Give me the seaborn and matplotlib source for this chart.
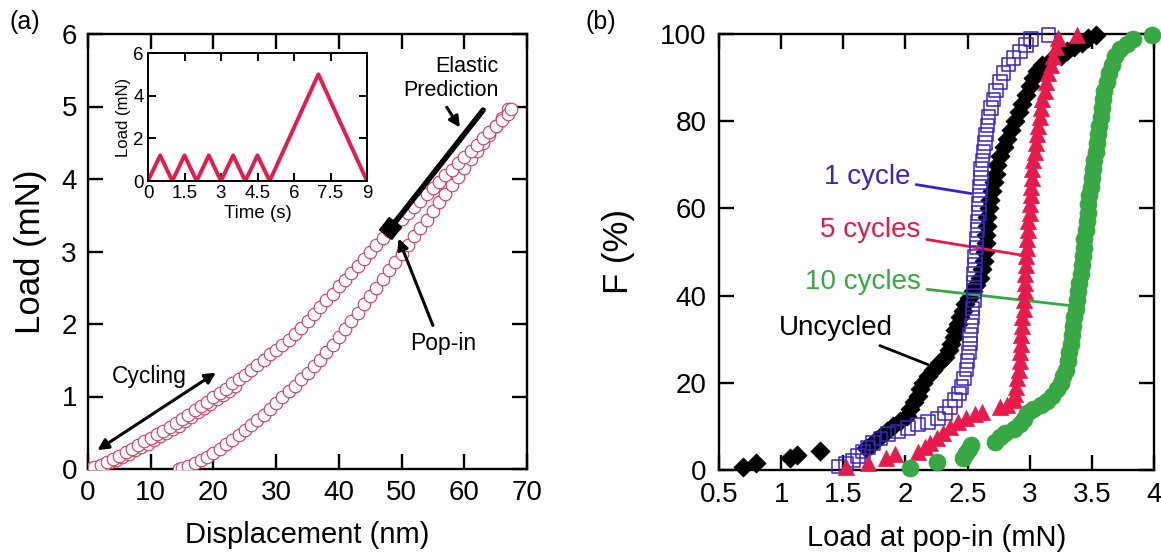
import matplotlib
matplotlib.use("Agg")
import matplotlib.pyplot as plt
import seaborn as sns
from matplotlib.ticker import MultipleLocator, FuncFormatter

# ---------------- panel (a): nanoindentation load-displacement ----------------
load_disp = [0, 1, 2, 3, 4, 5, 6, 7, 8, 9, 10, 11, 12, 13, 14, 15, 16, 17, 18, 19,
             20, 21, 22, 23, 24, 25, 26, 27, 28, 29, 30, 31, 32, 33, 34, 35, 36, 37, 38, 39,
             40, 41, 42, 43, 44, 45, 46, 47, 48, 49, 50, 51, 52, 53, 54, 55, 56, 57, 58, 59,
             60, 61, 62, 63, 64, 65, 66, 67, 67.4]
load_force = [0.00, 0.03, 0.06, 0.10, 0.14, 0.18, 0.23, 0.28, 0.33, 0.38, 0.43, 0.48, 0.53, 0.58,
              0.63, 0.69, 0.75, 0.81, 0.87, 0.93, 0.99, 1.05, 1.11, 1.18, 1.24, 1.30, 1.37, 1.44,
              1.51, 1.58, 1.64, 1.71, 1.78, 1.86, 1.95, 2.04, 2.14, 2.23, 2.33, 2.42, 2.52, 2.61,
              2.71, 2.80, 2.90, 2.99, 3.09, 3.18, 3.28, 3.36, 3.45, 3.53, 3.62, 3.70, 3.79, 3.87,
              3.96, 4.05, 4.13, 4.22, 4.30, 4.39, 4.47, 4.56, 4.65, 4.73, 4.82, 4.90, 4.96]

unload_disp = [14.5, 15, 16, 17, 18, 19, 20, 21, 22, 23, 24, 25, 26, 27, 28, 29, 30, 31, 32, 33,
               34, 35, 36, 37, 38, 39, 40, 41, 42, 43, 44, 45, 46, 47, 48, 49, 50, 51, 52, 53,
               54, 55, 56, 57, 58, 59, 60, 61, 62, 63, 64, 65, 66, 67]
unload_force = [0.00, 0.01, 0.04, 0.08, 0.12, 0.17, 0.22, 0.28, 0.34, 0.40, 0.47, 0.54, 0.61,
                0.68, 0.75, 0.83, 0.91, 0.99, 1.07, 1.15, 1.24, 1.33, 1.42, 1.51, 1.61, 1.71,
                1.82, 1.93, 2.04, 2.15, 2.27, 2.38, 2.50, 2.62, 2.74, 2.85, 2.97, 3.09, 3.21,
                3.33, 3.44, 3.56, 3.68, 3.80, 3.92, 4.03, 4.15, 4.27, 4.38, 4.50, 4.61, 4.73,
                4.84, 4.96]

# retrace of the low-load cycles
cycle_disp = [0.5, 1.5, 2.5, 3.5, 4.5, 5.5, 6.5, 7.5, 8.5, 9.5, 10.5, 11.5, 12.5, 13.5, 14.5,
              15.5, 16.5, 17.5, 18.5, 19.5, 20.5, 21.5, 22.5, 23.5]
cycle_force = [0.00, 0.03, 0.06, 0.09, 0.13, 0.17, 0.21, 0.26, 0.30, 0.35, 0.40, 0.45, 0.50,
               0.55, 0.60, 0.66, 0.72, 0.78, 0.84, 0.90, 0.96, 1.02, 1.08, 1.14]

elastic_disp = [48.2, 63.0]
elastic_force = [3.32, 4.95]
popin_disp = [48.2]
popin_force = [3.32]

# inset: applied load history
time_s = [0, 0.5, 1.0, 1.5, 2.0, 2.5, 3.0, 3.5, 4.0, 4.5, 5.0, 7.0, 9.0]
time_load = [0, 1.2, 0, 1.2, 0, 1.2, 0, 1.2, 0, 1.2, 0, 5.0, 0]

# ---------------- panel (b): cumulative pop-in load distributions ----------------
uncycled_load = [0.69, 0.80, 1.07, 1.13, 1.31,
                 1.68, 1.72, 1.76, 1.80, 1.85, 1.90, 1.96, 2.01, 2.04, 2.07, 2.10, 2.12, 2.14,
                 2.18, 2.22, 2.27, 2.32, 2.35, 2.37, 2.39, 2.40, 2.42, 2.44, 2.46, 2.48, 2.51,
                 2.54, 2.57, 2.60, 2.62, 2.63, 2.64, 2.65, 2.65, 2.66, 2.66, 2.67, 2.68, 2.70,
                 2.71, 2.73, 2.74, 2.76, 2.79, 2.82, 2.85, 2.88, 2.91, 2.94, 2.97, 3.00, 3.03,
                 3.06, 3.10, 3.17, 3.25, 3.30, 3.36, 3.42, 3.47, 3.53]
uncycled_F = [0.7, 1.6, 2.7, 3.4, 4.4,
              5.0, 5.8, 6.8, 7.8, 9.0, 10.0, 11.2, 12.5, 14.0, 15.5, 17.0, 18.5, 20.0,
              21.5, 23.0, 24.5, 26.0, 27.5, 29.0, 30.5, 32.0, 33.5, 35.0, 36.5, 38.0, 39.5,
              41.0, 42.5, 44.0, 46.0, 48.0, 50.0, 52.0, 54.0, 56.0, 58.0, 60.0, 62.0, 64.0,
              66.0, 68.0, 70.0, 72.0, 74.0, 76.0, 78.0, 80.0, 82.0, 84.0, 86.0, 88.0, 90.0,
              91.5, 93.0, 94.0, 95.0, 96.0, 97.0, 98.0, 99.0, 99.7]

one_cycle_load = [1.46, 1.52, 1.58, 1.62, 1.66, 1.70, 1.74, 1.80, 1.86, 1.94, 2.02, 2.10, 2.18,
                  2.26, 2.32, 2.36, 2.40, 2.43, 2.45, 2.47, 2.49, 2.50, 2.51, 2.52, 2.52, 2.53,
                  2.54, 2.54, 2.55, 2.55, 2.55, 2.55, 2.56, 2.56, 2.57, 2.57, 2.58, 2.58, 2.59,
                  2.59, 2.60, 2.60, 2.61, 2.61, 2.62, 2.63, 2.64, 2.65, 2.66, 2.67, 2.69, 2.71,
                  2.73, 2.76, 2.79, 2.83, 2.87, 2.92, 2.97, 3.01, 3.15]
one_cycle_F = [0.8, 1.4, 2.2, 3.2, 4.2, 5.2, 6.2, 7.2, 8.2, 8.8, 9.6, 10.4, 11.0,
               11.8, 13.0, 14.5, 16.0, 17.5, 19.0, 21.0, 23.0, 25.0, 27.0, 29.0, 31.0, 33.0,
               35.0, 37.0, 39.0, 41.0, 43.0, 45.0, 47.0, 49.0, 51.0, 53.0, 55.0, 57.0, 59.0,
               61.0, 63.0, 65.0, 67.0, 69.0, 71.0, 73.0, 75.0, 77.0, 79.0, 81.0, 83.0, 85.0,
               87.0, 89.0, 91.0, 93.0, 94.5, 96.0, 97.5, 98.8, 99.8]

five_cycle_load = [1.52, 1.70, 1.84, 1.92, 2.10, 2.16, 2.20, 2.25, 2.30, 2.36, 2.42, 2.49, 2.56,
                   2.62, 2.76, 2.82, 2.87, 2.88, 2.89, 2.90, 2.91, 2.92, 2.92, 2.93, 2.93, 2.94,
                   2.94, 2.95, 2.95, 2.96, 2.96, 2.96, 2.97, 2.97, 2.98, 2.98, 2.99, 2.99, 3.00,
                   3.00, 3.01, 3.01, 3.02, 3.02, 3.03, 3.04, 3.05, 3.06, 3.07, 3.08, 3.09, 3.10,
                   3.12, 3.13, 3.15, 3.17, 3.19, 3.21, 3.23, 3.38]
five_cycle_F = [0.6, 1.7, 2.7, 3.6, 4.2, 5.2, 6.2, 7.4, 8.6, 9.8, 11.0, 12.0, 12.8,
                13.4, 14.4, 15.0, 16.0, 17.5, 19.0, 21.0, 23.0, 25.0, 27.0, 29.0, 31.0, 33.0,
                35.0, 37.0, 39.0, 41.0, 43.0, 45.0, 47.0, 49.0, 51.0, 53.0, 55.0, 57.0, 59.0,
                61.0, 63.0, 65.0, 67.0, 69.0, 71.0, 73.0, 75.0, 77.0, 79.0, 81.0, 83.0, 85.0,
                87.0, 89.0, 91.0, 93.0, 95.0, 97.0, 99.0, 99.8]

ten_cycle_load = [2.04, 2.25, 2.46, 2.49, 2.51, 2.53, 2.72, 2.76, 2.80, 2.87, 2.92, 2.95, 2.98,
                  3.03, 3.09, 3.14, 3.18, 3.22, 3.25, 3.27, 3.29, 3.31, 3.32, 3.33, 3.34, 3.35,
                  3.36, 3.37, 3.38, 3.39, 3.40, 3.41, 3.42, 3.43, 3.44, 3.44, 3.45, 3.46, 3.47,
                  3.47, 3.48, 3.49, 3.50, 3.51, 3.52, 3.53, 3.54, 3.55, 3.56, 3.57, 3.58, 3.59,
                  3.60, 3.62, 3.64, 3.66, 3.69, 3.73, 3.78, 3.83, 3.98]
ten_cycle_F = [0.5, 1.8, 2.8, 3.8, 4.8, 5.8, 6.5, 7.5, 8.5, 9.5, 10.5, 11.8, 13.0,
               14.0, 14.8, 15.8, 17.0, 18.5, 20.0, 21.5, 23.0, 25.0, 27.0, 29.0, 31.0, 33.0,
               35.0, 37.0, 39.0, 41.0, 43.0, 45.0, 47.0, 49.0, 51.0, 53.0, 55.0, 57.0, 59.0,
               61.0, 63.0, 65.0, 67.0, 69.0, 71.0, 73.0, 75.0, 77.0, 79.0, 81.0, 83.0, 85.0,
               87.0, 89.0, 91.0, 93.0, 95.0, 96.5, 97.8, 98.8, 99.8]

# ---------------- colours ----------------
RED = "#d9385a"
CRIMSON = "#e8194b"
BLUE = "#3a22d0"
GREEN = "#38a845"

sns.set_theme(style="ticks")
plt.rcParams["font.family"] = ["Liberation Sans", "DejaVu Sans"]
plt.rcParams["axes.edgecolor"] = "black"
plt.rcParams["xtick.color"] = "black"
plt.rcParams["ytick.color"] = "black"
plt.rcParams["text.color"] = "black"
plt.rcParams["axes.labelcolor"] = "black"

W, H = 1161, 556
fig = plt.figure(figsize=(W / 100, H / 100), dpi=100)
fig.patch.set_facecolor("white")


def px_axes(left, top, right, bottom):
    return fig.add_axes([left / W, 1 - bottom / H, (right - left) / W, (bottom - top) / H])


def frame(ax, lw=1.7, length=11, size=20, pad=9):
    for s in ax.spines.values():
        s.set_visible(True)
        s.set_linewidth(lw)
        s.set_color("black")
    ax.tick_params(direction="in", length=length, width=lw, top=True, right=True,
                   labelsize=size, pad=pad)


ax_a = px_axes(88, 34, 527, 469)
ax_b = px_axes(719, 34, 1154, 470)
ax_in = px_axes(148, 53, 367, 181)

# ---------------- panel (a) ----------------
circ = dict(marker="o", s=82, color=RED, facecolor="white", edgecolor=RED, linewidth=0.8,
            ax=ax_a, legend=False)
sns.scatterplot(x=unload_disp, y=unload_force, zorder=3, **circ)
sns.scatterplot(x=cycle_disp, y=cycle_force, zorder=3, **circ)
sns.scatterplot(x=load_disp, y=load_force, zorder=4, **circ)
sns.lineplot(x=elastic_disp, y=elastic_force, color="black", linewidth=4.0, ax=ax_a,
             zorder=5, sort=False, legend=False)
sns.scatterplot(x=popin_disp, y=popin_force, marker=(4, 0, 7), s=240, color="black",
                edgecolor="black", ax=ax_a, zorder=6, legend=False)

ax_a.set_xlim(0, 70)
ax_a.set_ylim(0, 6)
ax_a.xaxis.set_major_locator(MultipleLocator(10))
ax_a.yaxis.set_major_locator(MultipleLocator(1))
frame(ax_a, pad=8)
ax_a.set_xlabel("Displacement (nm)", fontsize=21, labelpad=11)
ax_a.set_ylabel("Load (mN)", fontsize=25, labelpad=10)

arrow = dict(color="black", lw=2.2, mutation_scale=16)
ax_a.annotate("", xy=(20.4, 1.33), xytext=(1.5, 0.26),
              arrowprops=dict(arrowstyle="<|-|>", shrinkA=0, shrinkB=0, **arrow))
ax_a.text(9.7, 1.28, "Cycling", fontsize=16.5, ha="center", va="center")
ax_a.annotate("", xy=(59.3, 4.71), xytext=(57.2, 4.99),
              arrowprops=dict(arrowstyle="-|>", shrinkA=0, shrinkB=0, **arrow))
ax_a.text(65.5, 5.39, "Elastic\nPrediction", fontsize=15.5, ha="right", va="center",
          multialignment="right", linespacing=1.2)
ax_a.annotate("", xy=(49.5, 3.18), xytext=(55.0, 1.98),
              arrowprops=dict(arrowstyle="-|>", shrinkA=0, shrinkB=0, **arrow))
ax_a.text(56.7, 1.73, "Pop-in", fontsize=16.5, ha="center", va="center")

# inset
sns.lineplot(x=time_s, y=time_load, color=CRIMSON, linewidth=2.8, ax=ax_in, sort=False,
             legend=False)
ax_in.set_xlim(0, 9)
ax_in.set_ylim(0, 6)
ax_in.xaxis.set_major_locator(MultipleLocator(1.5))
ax_in.xaxis.set_major_formatter(FuncFormatter(lambda v, p: f"{v:g}"))
ax_in.yaxis.set_major_locator(MultipleLocator(2))
frame(ax_in, lw=1.4, length=6, size=13.5, pad=3)
ax_in.set_xlabel("Time (s)", fontsize=13.5, labelpad=2)
ax_in.set_ylabel("Load (mN)", fontsize=12, labelpad=2)
ax_in.set_facecolor("white")

# ---------------- panel (b) ----------------
sns.scatterplot(x=uncycled_load, y=uncycled_F, marker="D", s=95, color="black",
                edgecolor="black", linewidth=0.5, ax=ax_b, zorder=3, clip_on=False, legend=False)
sns.scatterplot(x=one_cycle_load, y=one_cycle_F, marker="s", s=95, color=BLUE,
                facecolor="none", edgecolor=BLUE, linewidth=1.1, ax=ax_b, zorder=4,
                clip_on=False, legend=False)
sns.scatterplot(x=five_cycle_load, y=five_cycle_F, marker="^", s=135, color=CRIMSON,
                edgecolor=CRIMSON, linewidth=0.5, ax=ax_b, zorder=5, clip_on=False, legend=False)
sns.scatterplot(x=ten_cycle_load, y=ten_cycle_F, marker="o", s=150, color=GREEN,
                edgecolor=GREEN, linewidth=0.5, ax=ax_b, zorder=6, clip_on=False, legend=False)

ax_b.set_xlim(0.5, 4)
ax_b.set_ylim(0, 100)
ax_b.xaxis.set_major_locator(MultipleLocator(0.5))
ax_b.xaxis.set_major_formatter(FuncFormatter(lambda v, p: f"{v:g}"))
ax_b.yaxis.set_major_locator(MultipleLocator(20))
frame(ax_b, pad=9)
ax_b.set_xlabel("Load at pop-in (mN)", fontsize=21, labelpad=11)
ax_b.set_ylabel("F (%)", fontsize=25, labelpad=18)

lead = dict(arrowstyle="-", shrinkA=2, shrinkB=0, lw=2.0)
ax_b.annotate("1 cycle", xy=(2.53, 63.4), xytext=(1.69, 67.3), fontsize=20, color=BLUE,
              ha="center", va="center", arrowprops=dict(color=BLUE, **lead))
ax_b.annotate("5 cycles", xy=(2.93, 49.3), xytext=(1.72, 55.0), fontsize=20, color=CRIMSON,
              ha="center", va="center", arrowprops=dict(color=CRIMSON, **lead))
ax_b.annotate("10 cycles", xy=(3.33, 37.7), xytext=(1.66, 43.1), fontsize=20, color=GREEN,
              ha="center", va="center", arrowprops=dict(color=GREEN, **lead))
ax_b.annotate("Uncycled", xy=(2.18, 24.2), xytext=(1.44, 32.5), fontsize=20, color="black",
              ha="center", va="center", arrowprops=dict(color="black", **lead))

fig.text(25 / W, 1 - 22 / H, "(a)", fontsize=18, ha="center", va="center")
fig.text(601 / W, 1 - 22 / H, "(b)", fontsize=18, ha="center", va="center")

fig.savefig("out.png", dpi=100, facecolor="white")
